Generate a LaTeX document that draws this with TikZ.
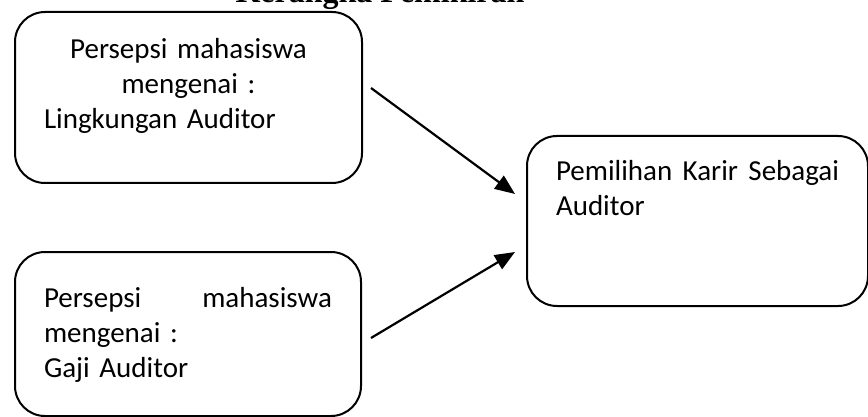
\documentclass[tikz,border=0pt]{standalone}
\usepackage{fontspec}
\setmainfont{Carlito}
\newfontfamily\judulfont{Liberation Serif}
\usetikzlibrary{arrows.meta}

\begin{document}
\begin{tikzpicture}%
[x=1pt, y=-1pt,%
kotak/.style={draw, line width=2pt, rounded corners=30pt, inner xsep=29pt, inner ysep=0pt, anchor=north west, font=\fontsize{29}{35}\selectfont},%
panah/.style={line width=2.2pt, -{Triangle[length=20pt,width=16pt]}}]

\useasboundingbox (0,0) rectangle (868,417);

\node[anchor=base, font=\judulfont\bfseries\fontsize{32}{38}\selectfont] (judul) at (380,3) {Kerangka Pemikiran};

\node[kotak, text width=289pt, text height=47pt, text depth=124pt] (lingkungan) at (14,11)
{\centering Persepsi mahasiswa\\ mengenai :\par\raggedright Lingkungan Auditor};

\node[kotak, align=left, text width=288pt, text height=55pt, text depth=109pt] (gaji) at (14,251)
{Persepsi\hfill mahasiswa\\ mengenai :\\ Gaji Auditor};

\node[kotak, align=left, text width=283pt, text height=45pt, text depth=125pt] (karir) at (526,135)
{Pemilihan\hfill Karir\hfill Sebagai\\ Auditor};

\draw[panah] ([xshift=8pt,yshift=9.5pt]lingkungan.east) -- ([xshift=-11pt,yshift=27pt]karir.west);
\draw[panah] ([xshift=9pt,yshift=-4pt]gaji.east) -- ([xshift=-11pt,yshift=-31pt]karir.west);
\end{tikzpicture}
\end{document}
